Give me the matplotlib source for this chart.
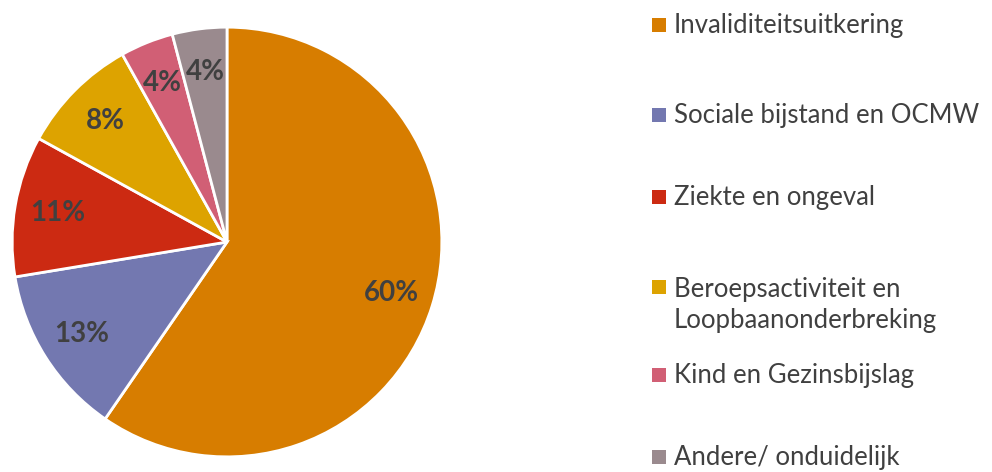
import matplotlib
matplotlib.use("Agg")
import matplotlib.pyplot as plt
from matplotlib.patches import Rectangle

categories = ["Invaliditeitsuitkering", "Sociale bijstand en OCMW", "Ziekte en ongeval",
              "Beroepsactiviteit en\nLoopbaanonderbreking", "Kind en Gezinsbijslag",
              "Andere/ onduidelijk"]
values = [59.6, 12.8, 10.6, 8.9, 4.0, 4.1]
pct_labels = ["60%", "13%", "11%", "8%", "4%", "4%"]
colors = ["#D77D00", "#7378B0", "#CC2A12", "#DDA300", "#D15F75", "#9A8A8E"]

plt.rcParams['font.family'] = ['Lato', 'DejaVu Sans']

W, H = 992, 472
fig = plt.figure(figsize=(W / 100, H / 100), dpi=100)
ax = fig.add_axes([10 / W, 13 / H, 434 / W, 434 / H])
wedges, texts = ax.pie(values, labels=pct_labels, colors=colors, startangle=90,
                       counterclock=False, labeldistance=0.8,
                       wedgeprops=dict(edgecolor="white", linewidth=2),
                       textprops=dict(fontsize=20, fontweight="bold", color="#404040",
                                      ha="center", va="center"))
ax.set_xlim(-1.01, 1.01)
ax.set_ylim(-1.01, 1.01)
ax.set_aspect("equal")
ax.axis("off")

legend_y = [25, 115, 197, 305, 375, 457]
for cat, col, y in zip(categories, colors, legend_y):
    if "\n" in cat:
        sq_y = 287
    else:
        sq_y = y
    fig.patches.append(Rectangle(((652) / W, (H - sq_y - 7) / H), 14 / W, 14 / H,
                                 transform=fig.transFigure, facecolor=col, edgecolor="none"))
    fig.text(674 / W, (H - y) / H, cat, fontsize=18.5, color="#404040",
             ha="left", va="center", linespacing=1.3)

fig.savefig("out.png", dpi=100)
